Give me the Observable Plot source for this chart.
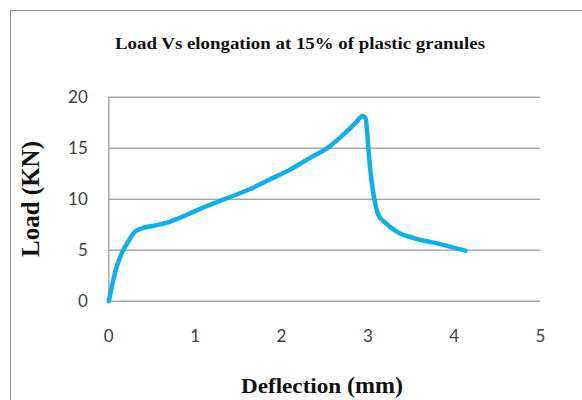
<!DOCTYPE html>
<html>
<head>
<meta charset="utf-8">
<script src="https://cdn.jsdelivr.net/npm/d3@7"></script>
<script src="https://cdn.jsdelivr.net/npm/@observablehq/plot@0.6"></script>
<style>
  html, body { margin: 0; padding: 0; background: #fff; overflow: hidden; }
  #wrap { position: relative; width: 582px; height: 400px; }
  #frame { position: absolute; left: 10px; top: 10px; width: 620px; height: 440px;
           border-left: 1.5px solid #8c8c8c; border-top: 1.5px solid #8c8c8c; }
  #chart { position: absolute; left: 0; top: 0; }
</style>
</head>
<body>
<div id="wrap"><div id="frame"></div><div id="chart"></div></div>
<script>
const title = "Load Vs elongation at 15% of plastic granules";
const yLabel = "Load (KN)";
const xLabelMain = "Deflection ";
const xLabelUnit = "(mm)";
const xTicks = [0, 1, 2, 3, 4, 5];
const yTicks = [0, 5, 10, 15, 20];
const deflection = [0, 0.04, 0.078, 0.155, 0.23, 0.29, 0.37, 0.52, 0.71, 0.91, 1.14, 1.37, 1.64, 1.87, 2.1, 2.34, 2.53, 2.72, 2.86, 2.94, 2.975, 2.995, 3.01, 3.03, 3.05, 3.08, 3.12, 3.2, 3.34, 3.57, 3.84, 4.13];
const load =       [0, 1.6, 3.0, 4.8, 5.9, 6.7, 7.1, 7.4, 7.8, 8.5, 9.35, 10.1, 11.0, 11.95, 12.9, 14.1, 15.0, 16.35, 17.5, 18.15, 17.9, 16.3, 14.6, 12.8, 11.4, 9.8, 8.5, 7.7, 6.8, 6.1, 5.6, 4.95];

const data = deflection.map((d, i) => ({x: d, y: load[i]}));
const grid = "#a8a8a8";

const chart = Plot.plot({
  width: 582,
  height: 400,
  marginTop: 96.7,
  marginBottom: 99.3,
  marginLeft: 108.3,
  marginRight: 42,
  style: {fontFamily: "Lato", fontSize: "17px", color: "#404040", background: "transparent"},
  x: {domain: [0, 5]},
  y: {domain: [0, 20]},
  marks: [
    Plot.gridY(yTicks.filter(d => d > 0), {stroke: grid, strokeOpacity: 1, strokeWidth: 1.5}),
    Plot.ruleY([0], {stroke: grid, strokeWidth: 1.5}),
    Plot.ruleX([0], {stroke: grid, strokeWidth: 1.5}),
    Plot.axisY(yTicks, {tickSize: 0, tickPadding: 21, label: null, tickFormat: "d"}),
    Plot.axisX(xTicks, {tickSize: 0, tickPadding: 29, label: null, tickFormat: "d"}),
    Plot.line(data, {x: "x", y: "y", stroke: "#0db0ec", strokeWidth: 4.5, curve: "monotone-x", strokeLinecap: "round", strokeLinejoin: "round"})
  ]
});
document.getElementById("chart").appendChild(chart);

const svg = d3.select(chart);
svg.append("text")
  .attr("x", 300).attr("y", 49)
  .attr("text-anchor", "middle")
  .attr("font-family", "Liberation Serif").attr("font-weight", "bold").attr("font-size", 17)
  .attr("textLength", 370).attr("lengthAdjust", "spacingAndGlyphs")
  .attr("fill", "#111")
  .text(title);
svg.append("text")
  .attr("transform", "translate(39,199) rotate(-90)")
  .attr("text-anchor", "middle")
  .attr("font-family", "Liberation Serif").attr("font-weight", "bold").attr("font-size", 25)
  .attr("fill", "#111")
  .text(yLabel);
const xl = svg.append("text")
  .attr("x", 241).attr("y", 393)
  .attr("text-anchor", "start")
  .attr("font-family", "Liberation Serif").attr("font-weight", "bold")
  .attr("fill", "#111");
xl.append("tspan").attr("font-size", 20).attr("textLength", 106).attr("lengthAdjust", "spacingAndGlyphs").text(xLabelMain);
xl.append("tspan").attr("font-size", 24).attr("x", 347).text(xLabelUnit);
</script>
</body>
</html>
